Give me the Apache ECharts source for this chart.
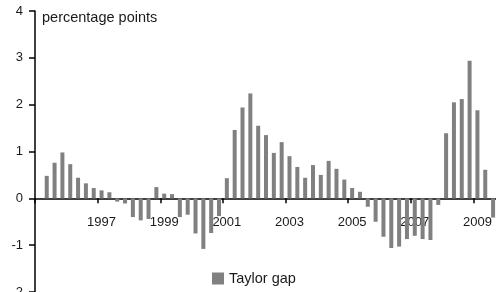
<!DOCTYPE html>
<html>
<head>
<meta charset="utf-8">
<script src="https://cdn.jsdelivr.net/npm/echarts@6/dist/echarts.min.js"></script>
<style>
html,body{margin:0;padding:0;background:#fff;}
#chart{width:496px;height:292px;}
</style>
</head>
<body>
<div id="chart"></div>
<script>
// quarters 1995 Q1 .. 2009 Q3
var firstYear = 1995
var lastYear = 2009
var quarters = []
for (var y = firstYear; y <= lastYear; y++) {
    for (var q = 1; q <= 4; q++) {
        if (y === lastYear && q > 3) break
        quarters.push(y + ' Q' + q)
    }
}
// Taylor gap, percentage points
var taylorGap = [
    null, 0.48, 0.76, 0.98, 0.73, 0.44, 0.32, 0.22,   // 1995-1996
    0.17, 0.13, -0.07, -0.11, -0.40, -0.47, -0.44, 0.24, // 1997-1998
    0.10, 0.09, -0.40, -0.35, -0.75, -1.08, -0.74, -0.38, // 1999-2000
    0.43, 1.46, 1.94, 2.24, 1.55, 1.35, 0.97, 1.20,    // 2001-2002
    0.90, 0.67, 0.44, 0.71, 0.50, 0.80, 0.63, 0.40,    // 2003-2004
    0.22, 0.14, -0.18, -0.50, -0.82, -1.06, -1.03, -0.87, // 2005-2006
    -0.80, -0.87, -0.89, -0.14, 1.39, 2.05, 2.12, 2.94, // 2007-2008
    1.88, 0.61, -0.41                                   // 2009
]
var yTicks = [-2, -1, 0, 1, 2, 3, 4]

var gridTop = 11
var gridBottom = 0
var plotH = 292 - gridTop - gridBottom
// x axis sits on the zero line; move it up from the grid bottom by offset
var zeroOffset = plotH * (0 - yTicks[0]) / (yTicks[yTicks.length - 1] - yTicks[0])

var chart = echarts.init(document.getElementById('chart'))
var font = 'Liberation Sans, Arial, sans-serif'
var option = {
    animation: false,
    title: {
        text: 'percentage points',
        left: 42,
        top: 10,
        padding: 0,
        textStyle: {fontFamily: font, fontSize: 14.5, fontWeight: 'normal', color: '#1a1a1a'}
    },
    legend: {
        data: ['Taylor gap'],
        left: 212,
        top: 271,
        padding: 0,
        itemWidth: 12,
        itemHeight: 12,
        icon: 'rect',
        textStyle: {fontFamily: font, fontSize: 14.5, color: '#1a1a1a'}
    },
    grid: {left: 35, right: -1, top: gridTop, bottom: gridBottom, outerBoundsMode: 'none', containLabel: false},
    xAxis: {
        type: 'category',
        data: quarters,
        boundaryGap: true,
        position: 'bottom',
        offset: -zeroOffset,
        axisLine: {onZero: false, lineStyle: {color: '#000', width: 1.5}},
        axisTick: {
            show: true,
            length: 5,
            interval: function (idx) { return idx % 8 === 0 },
            lineStyle: {color: '#000', width: 1.5}
        },
        axisLabel: {
            interval: function (idx) { return idx > 0 && idx % 8 === 0 },
            formatter: function (v) { return v.slice(0, 4) },
            margin: 18,
            fontFamily: font,
            fontSize: 13,
            color: '#1a1a1a'
        },
        splitLine: {show: false}
    },
    yAxis: {
        type: 'value',
        min: yTicks[0],
        max: yTicks[yTicks.length - 1],
        interval: 1,
        axisLine: {show: true, lineStyle: {color: '#000', width: 1.5}},
        axisTick: {show: true, length: 6, lineStyle: {color: '#000', width: 1.5}},
        axisLabel: {margin: 12, fontFamily: font, fontSize: 13, color: '#1a1a1a'},
        splitLine: {show: false}
    },
    series: [{
        name: 'Taylor gap',
        type: 'bar',
        data: taylorGap,
        barWidth: 4,
        itemStyle: {color: '#808080'}
    }]
}
chart.setOption(option)
</script>
</body>
</html>
